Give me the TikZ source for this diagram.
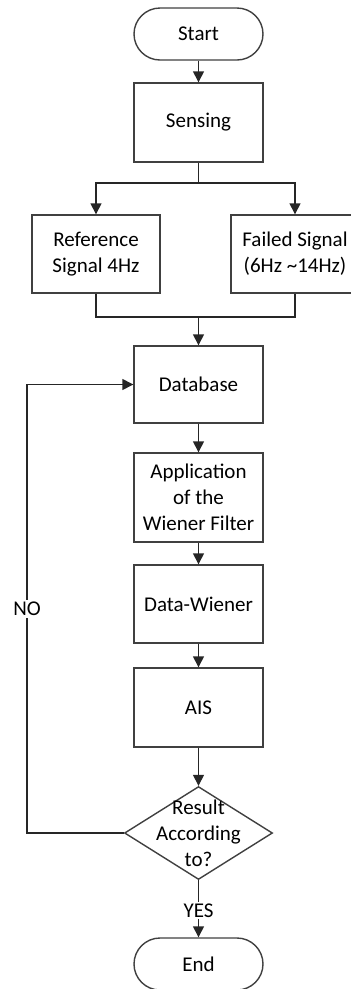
\documentclass[tikz,border=0pt]{standalone}
\usepackage{fontspec}
\setmainfont{Carlito}
\usetikzlibrary{shapes.geometric,arrows.meta}
\begin{document}
\begin{tikzpicture}[x=1pt,y=-1pt,
  line width=1.4pt,
  every node/.style={font=\fontsize{21}{26}\selectfont, align=center, inner sep=0pt},
  box/.style={draw=black!75, fill=white, rectangle, minimum width=129pt},
  term/.style={draw=black!75, fill=white, rectangle, rounded corners=26pt, minimum width=129pt, minimum height=52pt},
  conn/.style={draw=black!85, line width=1.4pt},
  arr/.style={conn, -{Triangle[length=11pt,width=11pt]}},
  lbl/.style={fill=white, inner sep=2pt}]
\useasboundingbox (0,0) rectangle (351,989);
\clip (0,0) rectangle (351,989);
\node[term] (start) at (198.5,34) {Start};
\node[box, minimum height=79pt] (sensing) at (198.5,122.5) {Sensing};
\node[box, minimum width=128pt, minimum height=78pt] (ref) at (96,254) {Reference\\Signal 4Hz};
\node[box, minimum width=128pt, minimum height=78pt] (failed) at (295,254) {Failed Signal\\(6Hz \textasciitilde 14Hz)};
\node[box, minimum height=77pt] (db) at (198.5,384.5) {Database};
\node[box, minimum height=89pt] (app) at (198.5,497.5) {Application\\of the\\Wiener Filter};
\node[box, minimum height=78pt] (dw) at (198.5,604) {Data-Wiener};
\node[box, minimum height=79pt] (ais) at (198.5,707.5) {AIS};
\node[draw=black!75, diamond, minimum width=148pt, minimum height=93pt, inner sep=0pt] (dec) at (198.5,833) {};
\node (dectext) at (198.5,833) {Result\\According\\to?};
\node[term] (end) at (198.5,964) {End};
\coordinate (split) at (198.5,183);
\coordinate (merge) at (198.5,317);
\coordinate (back) at (27,833);
\draw[arr] (start) -- (sensing);
\draw[conn] (sensing) -- (split);
\draw[arr] (split) -| (ref.north);
\draw[arr] (split) -| (failed.north);
\draw[conn] (ref.south) |- (merge);
\draw[conn] (failed.south) |- (merge);
\draw[arr] (merge) -- (db);
\draw[arr] (db) -- (app);
\draw[arr] (app) -- (dw);
\draw[arr] (dw) -- (ais);
\draw[arr] (ais) -- (dec.north);
\draw[arr] (dec.west) -- (back) |- node[lbl, pos=0.25] (no) {NO} (db.west);
\draw[arr] (dec.south) -- node[lbl, pos=0.53] (yes) {YES} (end);
\end{tikzpicture}
\end{document}
